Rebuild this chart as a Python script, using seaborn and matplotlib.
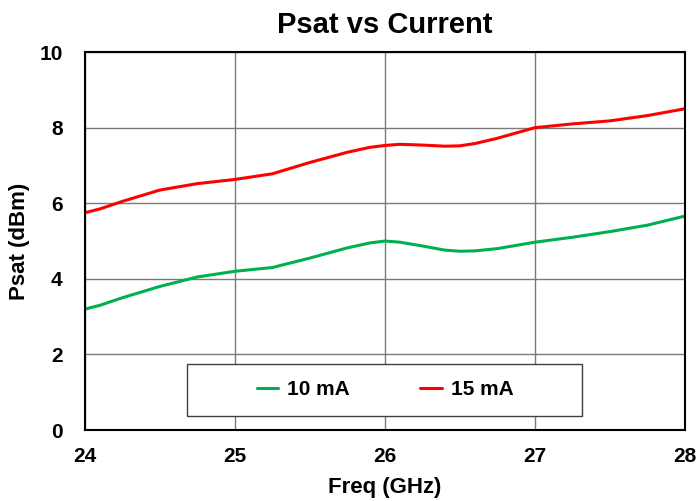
import numpy as np
import pandas as pd
import matplotlib
matplotlib.use("Agg")
import matplotlib.pyplot as plt
from matplotlib.patches import Rectangle
import seaborn as sns

# değerler
freq = [24.0, 24.1, 24.25, 24.5, 24.75, 25.0, 25.25, 25.5, 25.75, 25.9, 26.0, 26.1, 26.25, 26.4, 26.5, 26.6, 26.75, 27.0, 27.25, 27.5, 27.75, 28.0]
psat_10mA = [3.2, 3.3, 3.5, 3.8, 4.05, 4.2, 4.3, 4.55, 4.82, 4.95, 5.0, 4.97, 4.87, 4.76, 4.73, 4.74, 4.8, 4.97, 5.1, 5.25, 5.42, 5.66]
psat_15mA = [5.75, 5.85, 6.05, 6.35, 6.52, 6.63, 6.78, 7.08, 7.35, 7.48, 7.53, 7.56, 7.54, 7.51, 7.52, 7.58, 7.72, 8.0, 8.1, 8.18, 8.32, 8.5]
etiketler = ["10 mA", "15 mA"]

veri = pd.DataFrame({
    "freq": freq * 2,
    "psat": psat_10mA + psat_15mA,
    "akim": [etiketler[0]] * len(freq) + [etiketler[1]] * len(freq),
})

sns.set_style("white")
plt.rcParams["font.family"] = ["Liberation Sans", "DejaVu Sans"]
plt.rcParams["font.weight"] = "bold"
plt.rcParams["text.color"] = "black"
plt.rcParams["axes.labelcolor"] = "black"
plt.rcParams["xtick.color"] = "black"
plt.rcParams["ytick.color"] = "black"

fig = plt.figure(figsize=(6.96, 5.01), dpi=100)
ax = fig.add_axes([0.122, 0.1417, 0.862, 0.7543])

sns.lineplot(data=veri, x="freq", y="psat", hue="akim",
             palette={"10 mA": "#00b050", "15 mA": "#ff0000"},
             linewidth=2.2, ax=ax)

ax.set_xlim(24, 28)
ax.set_ylim(0, 10)
ax.set_xticks(np.arange(24, 29, 1))
ax.set_yticks(np.arange(0, 11, 2))
ax.grid(True, color="#7a7a7a", linewidth=1)
for s in ax.spines.values():
    s.set_visible(True)
    s.set_color("black")
    s.set_linewidth(1.5)
ax.tick_params(axis="both", labelsize=15, length=0)
ax.tick_params(axis="x", pad=12)
ax.tick_params(axis="y", pad=16)
for lab in ax.get_xticklabels() + ax.get_yticklabels():
    lab.set_fontweight("bold")

ax.set_xlabel("Freq (GHz)", fontsize=16, fontweight="bold", labelpad=8)
ax.set_ylabel("Psat (dBm)", fontsize=16, fontweight="bold", labelpad=7)
ax.set_title("Psat vs Current", fontsize=21, fontweight="bold", pad=14)

# lejant kutusu
ax.add_patch(Rectangle((0.17, 0.037), 0.658, 0.138, transform=ax.transAxes,
                       facecolor="white", edgecolor="#404040", linewidth=1,
                       zorder=4))
leg = ax.legend(loc="center", bbox_to_anchor=(0.5, 0.106), ncol=2,
                frameon=False, fontsize=15, handlelength=1.05,
                handletextpad=0.4, columnspacing=3.4)
leg.set_zorder(5)
for t in leg.get_texts():
    t.set_fontweight("bold")

fig.savefig("out.png", dpi=100)
